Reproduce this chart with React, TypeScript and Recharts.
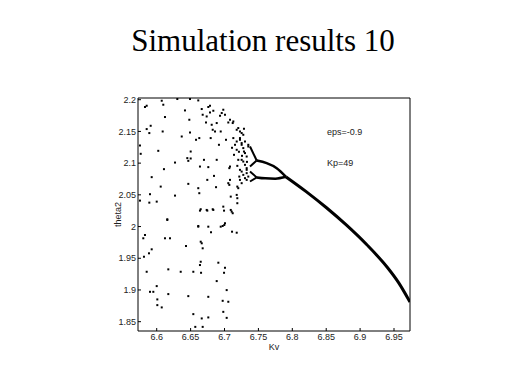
import React from "react";
import {
  ComposedChart,
  Scatter,
  Line,
  XAxis,
  YAxis,
} from "recharts";

const KV_TICKS = [6.6, 6.65, 6.7, 6.75, 6.8, 6.85, 6.9, 6.95];
const THETA_TICKS = [1.85, 1.9, 1.95, 2, 2.05, 2.1, 2.15, 2.2];
const KV_DOMAIN = [6.5724, 6.9736];
const THETA_DOMAIN = [1.8353, 2.2027];

// chaotic region, [Kv, theta2]
const chaos: [number, number][] = [
  [6.5753, 2.1278], [6.5764, 2.1147], [6.5753, 2.0409], [6.5827, 2.1885], [6.5852, 2.1905],
  [6.5852, 2.1537], [6.5891, 2.1474], [6.5911, 2.1589], [6.5926, 2.0779], [6.5901, 2.051],
  [6.5891, 2.0377], [6.6, 2.0393], [6.6023, 2.1194], [6.6074, 2.1984], [6.6097, 2.1921],
  [6.6088, 2.1499], [6.6107, 2.0905], [6.6122, 2.1727], [6.6059, 2.063], [6.6156, 2.0115],
  [6.627, 2.1009], [6.627, 2.0488], [6.6304, 2.2011], [6.6369, 2.142], [6.6417, 2.1831],
  [6.6466, 2.0673], [6.6451, 2.1079], [6.6466, 2.1036], [6.6481, 2.1684], [6.6491, 2.1483],
  [6.6501, 2.1183], [6.6501, 2.1073], [6.6491, 2.2011], [6.6613, 2.1989], [6.6613, 2.0605],
  [6.6628, 2.0526], [6.6628, 2.1395], [6.6613, 2.0009], [6.6638, 2.0946], [6.6649, 2.0273],
  [6.6664, 2.1853], [6.6678, 2.1763], [6.6697, 2.1052], [6.6727, 2.1641], [6.6737, 2.1736],
  [6.6737, 2.0262], [6.6746, 2.0736], [6.6761, 1.9998], [6.6761, 2.0937], [6.6761, 2.1885],
  [6.6786, 2.1905], [6.6786, 2.1799], [6.6796, 2.1395], [6.6811, 2.1605], [6.6826, 2.1526],
  [6.6835, 2.0262], [6.686, 2.1499], [6.6875, 2.0621], [6.6885, 2.1052], [6.6885, 2.1632],
  [6.6934, 2.1747], [6.6944, 2.1499], [6.6959, 2.179], [6.6973, 2.0009], [6.6982, 2.0314],
  [6.6993, 2.0251], [6.7007, 2.0052], [6.7056, 2.1641], [6.7071, 2.0921], [6.7081, 2.0736],
  [6.7071, 2.0657], [6.7092, 2.0472], [6.7106, 2.0235], [6.7121, 2.1632], [6.713, 2.1395],
  [6.7155, 2.1289], [6.718, 2.121], [6.718, 2.1526], [6.7189, 2.0957], [6.7203, 2.1052],
  [6.7218, 2.0788], [6.7228, 2.0894], [6.7228, 2.1395], [6.7253, 2.1316], [6.7277, 2.1447],
  [6.7287, 2.1183], [6.7327, 2.0894], [6.7327, 2.0736], [6.7351, 2.1262], [6.7327, 2.1104],
  [6.7189, 2.063], [6.7189, 2.0447],
  [6.5827, 1.9867], [6.5802, 1.9815], [6.5926, 1.9641], [6.5886, 1.9578], [6.5812, 1.9524],
  [6.5852, 1.9287], [6.5901, 1.8971], [6.595, 1.8971], [6.6, 1.9061], [6.6009, 1.8851],
  [6.6009, 1.8761], [6.6074, 1.8725], [6.6156, 2.0104], [6.6122, 1.9815], [6.6196, 1.9815],
  [6.6171, 1.9325], [6.6171, 1.8935], [6.6354, 1.9287], [6.6432, 1.9693], [6.6466, 1.8903],
  [6.654, 1.8619], [6.6569, 1.8418], [6.654, 1.9287], [6.6613, 1.9998], [6.6649, 1.9761],
  [6.6664, 1.9736], [6.6678, 1.9657], [6.6638, 1.9393], [6.6649, 1.9445], [6.6654, 1.9271],
  [6.6664, 1.8551], [6.6678, 1.8418], [6.6638, 2.0251], [6.6746, 2.0251], [6.6826, 2.0273],
  [6.6801, 1.991], [6.6761, 1.8892], [6.6761, 1.8567], [6.6885, 1.914], [6.6909, 1.943],
  [6.6944, 1.9998], [6.6997, 2.0025], [6.7007, 1.935], [6.6993, 1.9271], [6.6973, 1.8829],
  [6.7032, 1.8998], [6.7056, 1.8814], [6.7032, 1.856], [6.6982, 1.8655], [6.7092, 2.0262],
  [6.7121, 2.021], [6.7111, 1.9919], [6.718, 1.9903], [6.7189, 2.0368],
  [6.6835, 2.1826], [6.6982, 2.1842], [6.7007, 2.1763], [6.7081, 2.1684], [6.713, 2.1657],
  [6.7203, 2.1553], [6.7228, 2.1499], [6.7253, 2.1474], [6.7302, 2.1341], [6.7351, 2.1289],
  [6.7253, 2.1289], [6.7277, 2.1237], [6.7228, 2.1368], [6.718, 2.1341], [6.7302, 2.1158],
  [6.7258, 2.1115], [6.7253, 2.1052], [6.7277, 2.1025], [6.7302, 2.0973], [6.7327, 2.0921],
  [6.7253, 2.0867], [6.7277, 2.0815], [6.7327, 2.0842], [6.7228, 2.0736], [6.7253, 2.0684],
  [6.7302, 2.0763], [6.7351, 2.0788], [6.7203, 2.0605], [6.7056, 2.0684], [6.718, 2.0499],
  [6.7081, 2.0946], [6.714, 2.1131], [6.7111, 2.1242], [6.7287, 2.1542], [6.7331, 2.102],
  [6.7213, 2.1179], [6.7022, 2.1368], [6.6918, 2.1289], [6.6845, 2.0799], [6.658, 2.1368],
];

// periodic branches
const period1: [number, number][] = [
  [6.7907, 2.0784], [6.82, 2.0555], [6.85, 2.03], [6.88, 2.0021], [6.91, 1.9712],
  [6.94, 1.9358], [6.957, 1.9112], [6.9736, 1.8809],
];
const period2Upper: [number, number][] = [
  [6.7475, 2.1041], [6.7622, 2.1], [6.777, 2.0921], [6.7907, 2.0784],
];
const period2Lower: [number, number][] = [
  [6.7475, 2.0775], [6.76, 2.076], [6.775, 2.0755], [6.7907, 2.0784],
];
const period4: [number, number][][] = [
  [[6.7376, 2.1262], [6.7475, 2.1041]],
  [[6.7376, 2.0946], [6.7475, 2.1041]],
  [[6.7376, 2.0867], [6.7475, 2.0775]],
  [[6.7376, 2.071], [6.7475, 2.0775]],
];

const toRows = (pts: [number, number][]) => pts.map(([x, y]) => ({ x, y }));

const FONT = "'Liberation Sans', Arial, sans-serif";
const tickStyle = { fontSize: 9, fill: "#222", fontFamily: FONT };

const Dot = (props: any) => {
  const { cx, cy } = props;
  return <rect x={cx - 1} y={cy - 1} width={2} height={2} fill="#000" />;
};

export default function App() {
  return (
    <div style={{ position: "absolute", left: 0, top: 0, width: 519, height: 389, background: "#fff" }}>
      <div
        style={{
          position: "absolute",
          left: 0,
          width: 526,
          top: 25,
          textAlign: "center",
          fontFamily: "'Liberation Serif', 'Times New Roman', serif",
          fontSize: 31,
          lineHeight: "31px",
          color: "#000",
        }}
      >
        Simulation results 10
      </div>
      <ComposedChart width={519} height={389} margin={{ top: 97, right: 108, bottom: 28, left: 108 }}>
        <XAxis
          xAxisId="b"
          type="number"
          dataKey="x"
          domain={KV_DOMAIN}
          allowDataOverflow
          ticks={KV_TICKS}
          tick={tickStyle}
          tickSize={-3}
          tickMargin={6}
          height={30}
          stroke="#000"
          label={{ value: "Kv", position: "insideBottom", offset: 11, style: { fontSize: 9, fill: "#222", fontFamily: FONT } }}
        />
        <XAxis
          xAxisId="t"
          orientation="top"
          type="number"
          dataKey="x"
          domain={KV_DOMAIN}
          allowDataOverflow
          ticks={KV_TICKS}
          tick={false}
          tickSize={-3}
          height={1}
          stroke="#000"
        />
        <YAxis
          yAxisId="l"
          type="number"
          dataKey="y"
          domain={THETA_DOMAIN}
          allowDataOverflow
          ticks={THETA_TICKS}
          tick={tickStyle}
          tickSize={-3}
          tickMargin={5}
          width={30}
          stroke="#000"
          label={{ value: "theta2", angle: -90, position: "insideLeft", offset: 10, style: { fontSize: 9, fill: "#222", fontFamily: FONT, textAnchor: "middle" } }}
        />
        <YAxis
          yAxisId="r"
          orientation="right"
          type="number"
          dataKey="y"
          domain={THETA_DOMAIN}
          allowDataOverflow
          ticks={THETA_TICKS}
          tick={false}
          tickSize={-3}
          width={1}
          stroke="#000"
        />
        <Scatter
          xAxisId="b"
          yAxisId="l"
          data={toRows(chaos)}
          dataKey="y"
          shape={Dot}
          isAnimationActive={false}
        />
        <Line xAxisId="b" yAxisId="l" data={toRows(period1)} dataKey="y" type="monotone" stroke="#000" strokeWidth={3} dot={false} isAnimationActive={false} />
        <Line xAxisId="b" yAxisId="l" data={toRows(period2Upper)} dataKey="y" type="monotone" stroke="#000" strokeWidth={2.5} dot={false} isAnimationActive={false} />
        <Line xAxisId="b" yAxisId="l" data={toRows(period2Lower)} dataKey="y" type="monotone" stroke="#000" strokeWidth={2.5} dot={false} isAnimationActive={false} />
        {period4.map((seg, i) => (
          <Line key={i} xAxisId="b" yAxisId="l" data={toRows(seg)} dataKey="y" stroke="#000" strokeWidth={2} dot={false} isAnimationActive={false} />
        ))}
      </ComposedChart>
      <div style={{ position: "absolute", left: 327, top: 127, fontFamily: FONT, fontSize: 9, color: "#222" }}>eps=-0.9</div>
      <div style={{ position: "absolute", left: 327, top: 158, fontFamily: FONT, fontSize: 9, color: "#222" }}>Kp=49</div>
    </div>
  );
}
